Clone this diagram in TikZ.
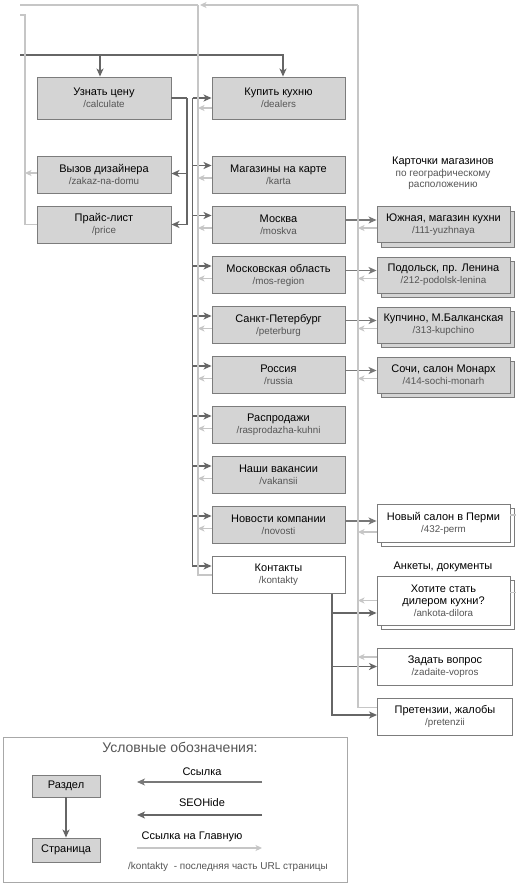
\documentclass[tikz,border=0pt]{standalone}
\usepackage{fontspec}
\setmainfont{Liberation Sans}
\usetikzlibrary{arrows.meta,shadows,calc}
\definecolor{boxfill}{HTML}{D4D4D4}
\definecolor{boxline}{HTML}{7C7C7C}
\definecolor{seoc}{HTML}{666666}
\definecolor{linkc}{HTML}{787878}
\definecolor{homec}{HTML}{C6C6C6}
\definecolor{urlc}{HTML}{555555}
\definecolor{framec}{HTML}{A8A8A8}
\newcommand\pgtxt[2]{#1\\{\color{urlc}\fontsize{9.8}{12}\selectfont #2}}
\tikzset{
  pg/.style={draw=boxline, line width=0.9pt, fill=boxfill, minimum width=134pt, minimum height=37pt,
    inner sep=0pt, align=center, font=\fontsize{11}{12}\selectfont},
  pgw/.style={pg, fill=white},
  cardg/.style={pg, copy shadow={shadow xshift=4.5pt, shadow yshift=-4.5pt, fill=boxfill, draw=boxline, line width=0.9pt}},
  cardw/.style={pgw, copy shadow={shadow xshift=4.5pt, shadow yshift=-4.5pt, fill=white, draw=boxline, line width=0.9pt}},
  seoline/.style={draw=seoc, line width=1.45pt},
  seo/.style={seoline, -{Stealth[length=8pt,width=7pt,inset=2.2pt]}},
  link/.style={draw=linkc, line width=1.2pt, -{Stealth[length=8pt,width=7pt,inset=2.2pt]}},
  homeline/.style={draw=homec, line width=1.1pt},
  home/.style={homeline, -{Stealth[length=6.5pt,width=6pt,inset=1.8pt]}},
  lbl/.style={inner sep=0pt, font=\fontsize{11}{12}\selectfont, align=center},
  sublbl/.style={inner sep=0pt, font=\fontsize{10}{11.5}\selectfont, text=urlc, align=center},
}
\begin{document}
\begin{tikzpicture}[x=1pt, y=-1pt]
\useasboundingbox (0,0) rectangle (515,889);
\fill[white] (0,0) rectangle (515,889);

% ---------- left column
\node[pg, minimum height=42pt] (calc) at (104,98) {\pgtxt{Узнать цену}{/calculate}};
\node[pg] (zakaz) at (104,174.5) {\pgtxt{Вызов дизайнера}{/zakaz-na-domu}};
\node[pg] (price) at (104,224.5) {\pgtxt{Прайс-лист}{/price}};

% ---------- middle column
\node[pg, minimum width=133pt, minimum height=42pt] (dealers) at (278.5,98) {\pgtxt{Купить кухню}{/dealers}};
\node[pg, minimum width=133pt] (karta) at (278.5,174.5) {\pgtxt{Магазины на карте}{/karta}};
\node[pg, minimum width=133pt] (moskva) at (278.5,224.5) {\pgtxt{Москва}{/moskva}};
\node[pg, minimum width=133pt] (mosreg) at (278.5,275) {\pgtxt{Московская область}{/mos-region}};
\node[pg, minimum width=133pt] (peter) at (278.5,325) {\pgtxt{Санкт-Петербург}{/peterburg}};
\node[pg, minimum width=133pt] (russia) at (278.5,375) {\pgtxt{Россия}{/russia}};
\node[pg, minimum width=133pt] (rasp) at (278.5,425) {\pgtxt{Распродажи}{/rasprodazha-kuhni}};
\node[pg, minimum width=133pt] (vak) at (278.5,475) {\pgtxt{Наши вакансии}{/vakansii}};
\node[pg, minimum width=133pt] (novosti) at (278.5,525) {\pgtxt{Новости компании}{/novosti}};
\node[pgw, minimum width=133pt] (kontakty) at (278.5,575) {\pgtxt{Контакты}{/kontakty}};

% ---------- right column
\node[lbl] (cardhead) at (443,162) {Карточки магазинов};
\node[sublbl] (cardsub) at (443,179.5) {по географическому\\расположению};
\node[cardg, minimum width=133pt, minimum height=36pt] (yuzh) at (443.5,224.5) {\pgtxt{Южная, магазин кухни}{/111-yuzhnaya}};
\node[cardg, minimum width=133pt, minimum height=36pt] (podol) at (443.5,275) {\pgtxt{Подольск, пр. Ленина}{/212-podolsk-lenina}};
\node[cardg, minimum width=133pt, minimum height=36pt] (kupch) at (443.5,325) {\pgtxt{Купчино, М.Балканская}{/313-kupchino}};
\node[cardg, minimum width=133pt, minimum height=36pt] (sochi) at (443.5,375) {\pgtxt{Сочи, салон Монарх}{/414-sochi-monarh}};
\node[cardw, minimum width=133pt, minimum height=38pt] (perm) at (443.5,523) {\pgtxt{Новый салон в Перми}{/432-perm}};
\node[lbl] (ankhead) at (443,567) {Анкеты, документы};
\node[cardw, minimum width=133pt, minimum height=49pt] (ankota) at (443.5,600.5) {\pgtxt{Хотите стать\\дилером кухни?}{/ankota-dilora}};
\node[pgw, minimum width=135pt] (zadat) at (445,666.5) {\pgtxt{Задать вопрос}{/zadaite-vopros}};
\node[pgw, minimum width=135pt] (pretenz) at (445,716.5) {\pgtxt{Претензии, жалобы}{/pretenzii}};

% ---------- SEOHide links (dark)
\coordinate (seoL) at (20,55);
\draw[seo] (seoL) -| ([xshift=-4pt]calc.north);
\draw[seo] (seoL) -| ([xshift=4.5pt]dealers.north);
\coordinate (cj) at (187,98);
\draw[seoline] (calc.east) -- (cj);
\draw[seo] (cj) |- ([yshift=1pt]zakaz.east);
\draw[seo] (cj) |- (price.east);
\coordinate (bus) at (192.5,98);
\draw[seo] (bus) -- (dealers.west);
\foreach \n in {karta,moskva,mosreg,peter,russia,rasp,vak,novosti,kontakty}
  {\draw[seo] (bus) |- ([yshift=9pt]\n.west);}
\coordinate (ks) at ([xshift=53.5pt]kontakty.south);
\draw[seo] (ks) |- ([yshift=-12.5pt]ankota.west);
\draw[seo] (ks) |- (zadat.west);
\draw[seo] (ks) |- ([yshift=1.5pt]pretenz.west);

% ---------- ordinary links to store cards
\foreach \a/\b in {moskva/yuzh,mosreg/podol,peter/kupch,russia/sochi}
  {\draw[link] ([yshift=4.5pt]\a.east) -- ([yshift=4.5pt]\b.west);}
\path ([yshift=4pt]novosti.east) coordinate (nv);
\draw[link] (nv) -- (perm.west |- nv);

% ---------- links to the home page (light)
\coordinate (hl) at (20,5);
\coordinate (hm) at (198,5);
\coordinate (hr) at (358,5);
\draw[home] (hr) -- ([xshift=2pt]hm);
\draw[homeline] (hm) -- (hl);
\draw[homeline] (hm) |- (kontakty.west);
\path ([yshift=9pt]pretenz.west) coordinate (pj);
\draw[homeline] (hr) |- (pj);
\path ([yshift=-10pt]dealers.west) coordinate (tmp);
\draw[home] (tmp) -- (hm |- tmp);
\foreach \n in {karta,moskva,mosreg,peter,russia,rasp,vak,novosti}
  {\path ([yshift=-3.5pt]\n.west) coordinate (tmp); \draw[home] (tmp) -- (hm |- tmp);}
\foreach \n/\s in {yuzh/-3.5,podol/-3.5,kupch/-3.5,sochi/-3.5,perm/-9,ankota/0,zadat/9.5}
  {\path ([yshift=\s pt]\n.west) coordinate (tmp); \draw[home] (tmp) -- (hr |- tmp);}
\coordinate (ll) at (25,15);
\coordinate (lx) at (20,15);
\draw[homeline] (price.west) -| (ll) -- (lx);
\path ([yshift=1.5pt]zakaz.west) coordinate (tmp);
\draw[home] (tmp) -- (ll |- tmp);
\draw[homeline] ([yshift=8pt]perm.east) -- ++(6,0);
\draw[homeline] ([yshift=8pt]ankota.east) -- ++(6,0);

% ---------- legend
\node[draw=framec, line width=0.9pt, minimum width=344pt, minimum height=145pt, inner sep=0pt] (legend) at (175,809.5) {};
\node[inner sep=0pt, font=\fontsize{14}{16}\selectfont, text=urlc] (ltitle) at (180,747) {Условные обозначения:};
\node[pg, minimum width=68pt, minimum height=22pt] (razdel) at (66,786) {Раздел};
\node[pg, minimum width=68pt, minimum height=24pt] (stranica) at (66,850) {Страница};
\draw[seo] (razdel) -- (stranica);
\node[lbl] (l1t) at (202,772) {Ссылка};
\coordinate (l1a) at (262,782); \coordinate (l1b) at (137,782);
\draw[link] (l1a) -- (l1b);
\node[lbl] (l2t) at (202,803) {SEOHide};
\coordinate (l2a) at (262,815); \coordinate (l2b) at (137,815);
\draw[seo] (l2a) -- (l2b);
\node[lbl] (l3t) at (192,837) {Ссылка на Главную};
\coordinate (l3a) at (137,848); \coordinate (l3b) at (262,848);
\draw[home] (l3a) -- (l3b);
\node[inner sep=0pt, font=\fontsize{10}{11}\selectfont, text=urlc, anchor=west] (l4t) at (128,867) {/kontakty\ \ - последняя часть URL страницы};
\end{tikzpicture}
\end{document}
